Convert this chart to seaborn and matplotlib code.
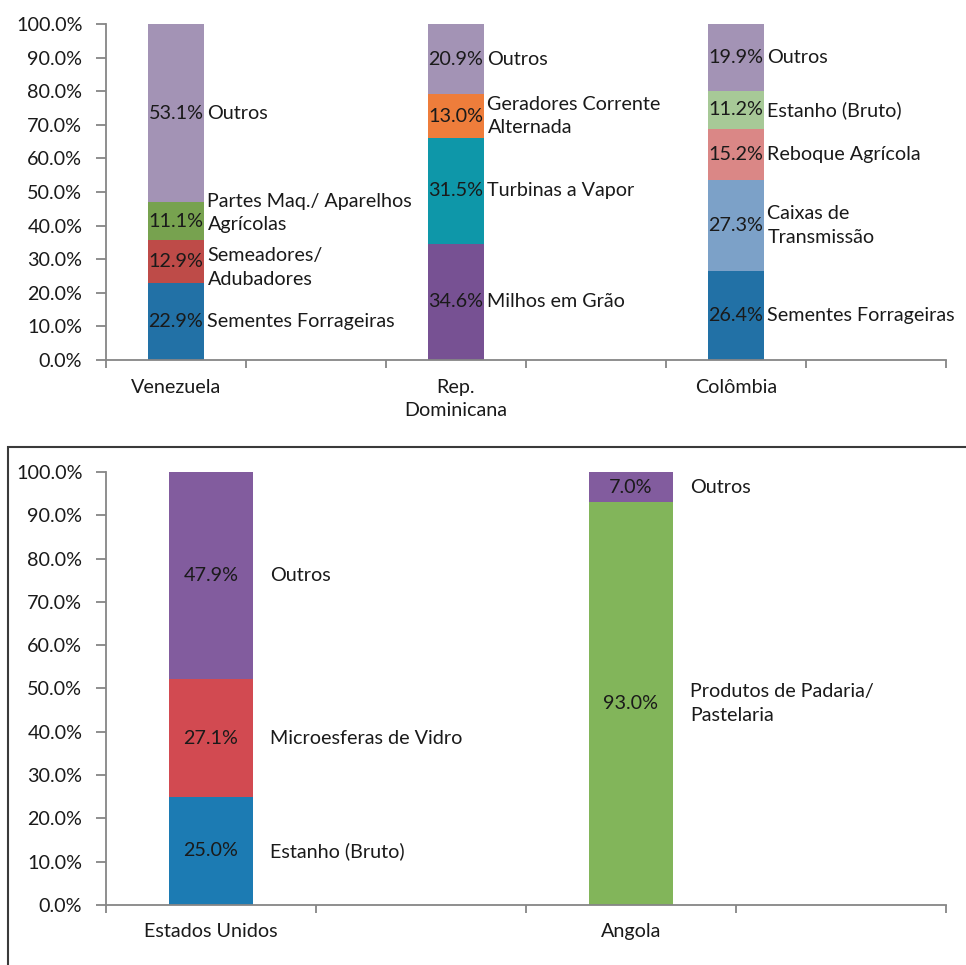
import numpy as np
import pandas as pd
import matplotlib.pyplot as plt
from matplotlib.patches import Rectangle
from matplotlib.ticker import PercentFormatter
import seaborn as sns

sns.set_theme(style="ticks")
plt.rcParams['font.family'] = ['Lato', 'DejaVu Sans']

# painel de cima
top_slots = ['Venezuela', '_a', 'Rep.\nDominicana', '_b', 'Colômbia', '_c']

ven_prod = ['Sementes Forrageiras', 'Semeadores/\nAdubadores', 'Partes Maq./ Aparelhos\nAgrícolas', 'Outros']
ven_vals = [22.9, 12.9, 11.1, 53.1]
ven_cores = ['#2271A6', '#BE4B48', '#77A24F', '#A393B5']

rd_prod = ['Milhos em Grão', 'Turbinas a Vapor', 'Geradores Corrente\nAlternada', 'Outros']
rd_vals = [34.6, 31.5, 13.0, 20.9]
rd_cores = ['#775193', '#0E97A9', '#EE7D3B', '#A393B5']

col_prod = ['Sementes Forrageiras', 'Caixas de\nTransmissão', 'Reboque Agrícola', 'Estanho (Bruto)', 'Outros']
col_vals = [26.4, 27.3, 15.2, 11.2, 19.9]
col_cores = ['#2271A6', '#7CA1C8', '#DA8786', '#A7C997', '#A393B5']

# painel de baixo
bot_slots = ['Estados Unidos', '_d', 'Angola', '_e']

eua_prod = ['Estanho (Bruto)', 'Microesferas de Vidro', 'Outros']
eua_vals = [25.0, 27.1, 47.9]
eua_cores = ['#1C7BB3', '#D24A51', '#825C9E']

ang_prod = ['Produtos de Padaria/\nPastelaria', 'Outros']
ang_vals = [93.0, 7.0]
ang_cores = ['#82B55A', '#825C9E']

# pequenos ajustes para os nomes não se sobreporem
ajuste = {('Venezuela', 'Partes Maq./ Aparelhos\nAgrícolas'): 2.4,
          ('Venezuela', 'Semeadores/\nAdubadores'): -1.8}

TXT = '#1a1a1a'
FS = 14.2


def monta(pais, prods, vals, cores):
    df = pd.DataFrame({'pais': pais, 'produto': prods, 'valor': vals, 'cor': cores})
    df['topo'] = df['valor'].cumsum()
    df['meio'] = df['topo'] - df['valor'] / 2
    return df


def desenha(ax, dfs, slots, folga, pad_x):
    df = pd.concat(dfs, ignore_index=True)
    # barras empilhadas: desenha do topo acumulado maior para o menor
    for _, r in df.sort_values('topo', ascending=False).iterrows():
        sns.barplot(x=[r['pais']], y=[r['topo']], order=slots, color=r['cor'],
                    width=0.4, errorbar=None, saturation=1, linewidth=0, ax=ax)
    for _, r in df.iterrows():
        i = slots.index(r['pais'])
        ax.text(i, r['meio'], f"{r['valor']:.1f}%", ha='center', va='center',
                fontsize=FS, color=TXT)
        dy = ajuste.get((r['pais'], r['produto']), 0)
        ax.text(i + 0.2 + folga, r['meio'] + dy, r['produto'], ha='left', va='center',
                fontsize=FS, color=TXT, linespacing=1.45)

    n = len(slots)
    ax.set_xlim(-0.5, n - 0.5)
    ax.set_ylim(0, 100)
    ax.set_yticks(np.arange(0, 101, 10))
    ax.yaxis.set_major_formatter(PercentFormatter(100, decimals=1))
    ax.set_xticks(np.arange(n + 1) - 0.5, labels=[''] * (n + 1))
    nomes = [s if not s.startswith('_') else '' for s in slots]
    ax.set_xticks(np.arange(n), labels=nomes, minor=True)
    ax.tick_params(axis='x', which='minor', length=0, pad=pad_x, labelsize=FS, labelcolor=TXT)
    ax.tick_params(axis='x', which='major', length=6, width=1.3, color='#868686')
    ax.tick_params(axis='y', length=7, width=1.3, color='#868686', pad=10,
                   labelsize=FS, labelcolor=TXT)
    for lab in ax.get_xticklabels(minor=True):
        lab.set_linespacing(1.4)
    ax.set_xlabel('')
    ax.set_ylabel('')
    sns.despine(ax=ax)
    for s in ['left', 'bottom']:
        ax.spines[s].set_color('#868686')
        ax.spines[s].set_linewidth(1.3)


fig = plt.figure(figsize=(9.66, 9.65), dpi=100)
fig.patch.set_facecolor('white')

ax1 = fig.add_axes([0.1097, 0.6269, 0.8696, 0.3482])
desenha(ax1, [monta('Venezuela', ven_prod, ven_vals, ven_cores),
              monta('Rep.\nDominicana', rd_prod, rd_vals, rd_cores),
              monta('Colômbia', col_prod, col_vals, col_cores)], top_slots, 0.025, 14)

ax2 = fig.add_axes([0.1097, 0.0622, 0.8696, 0.4487])
desenha(ax2, [monta('Estados Unidos', eua_prod, eua_vals, eua_cores),
              monta('Angola', ang_prod, ang_vals, ang_cores)], bot_slots, 0.08, 13)

# moldura do gráfico de baixo
fig.add_artist(Rectangle((0.0083, -0.05), 1.1, 0.5868, transform=fig.transFigure,
                         fill=False, ec='#3a3a3a', lw=1.5))

fig.savefig('out.png', dpi=100)
